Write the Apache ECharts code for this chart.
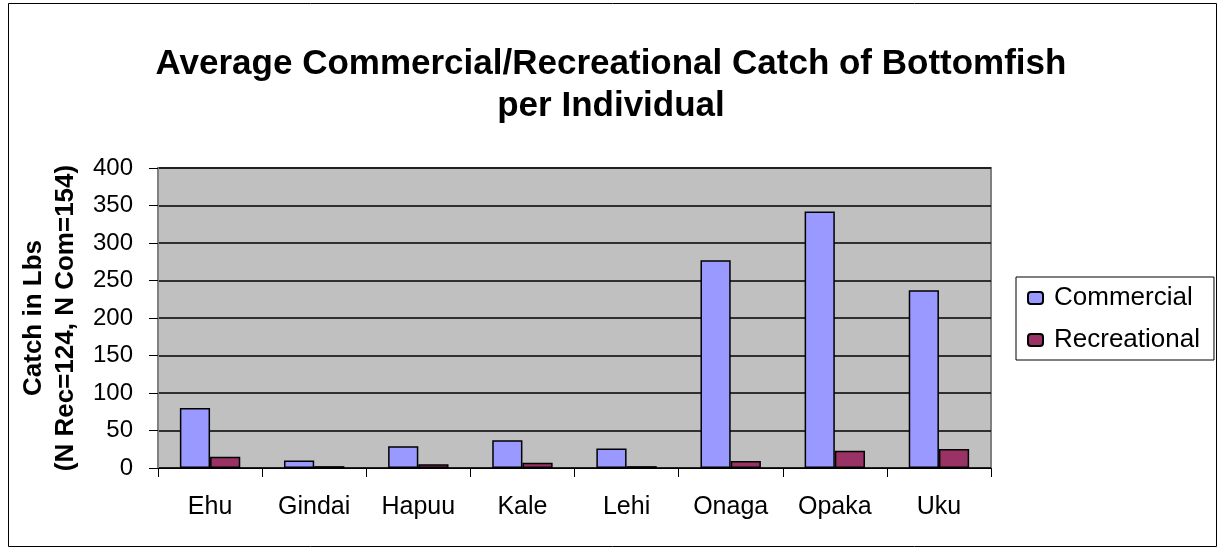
<!DOCTYPE html>
<html>
<head>
<meta charset="utf-8">
<script src="https://cdn.jsdelivr.net/npm/echarts@6/dist/echarts.min.js"></script>
<style>
html,body{margin:0;padding:0;background:#fff;}
#chart{width:1225px;height:550px;}
</style>
</head>
<body>
<div id="chart"></div>
<script>
var categories = ['Ehu','Gindai','Hapuu','Kale','Lehi','Onaga','Opaka','Uku'];
var commercial = [80, 10, 29, 37, 26, 277, 342, 237];
var recreational = [15, 2.5, 5, 7, 2.5, 9.5, 23, 25.5];
var seriesNames = ['Commercial','Recreational'];

var myChart = echarts.init(document.getElementById('chart'));

var option = {
	backgroundColor:'#ffffff',
	textStyle:{fontFamily:'Liberation Sans, Arial, sans-serif'},
	title:{
		text:'Average Commercial/Recreational Catch of Bottomfish\nper Individual',
		left:606,
		textAlign:'center',
		top:38,
		textStyle:{fontSize:35,fontWeight:'bold',color:'#000',lineHeight:42}
	},
	legend:{
		data:seriesNames,
		orient:'vertical',
		left:1016,
		top:277,
		padding:[8,14,7,11],
		itemGap:16,
		itemWidth:15,
		itemHeight:12,
		borderColor:'#000',
		borderWidth:1,
		textStyle:{fontSize:26,color:'#000',padding:[0,0,0,6]}
	},
	grid:{
		left:158,
		right:1225-991,
		top:168,
		bottom:550-468,
		show:true,
		backgroundColor:'#c0c0c0',
		borderColor:'#808080',
		borderWidth:2
	},
	xAxis:{
		type:'category',
		data:categories,
		axisLine:{lineStyle:{color:'#000',width:1}},
		axisTick:{show:true,length:9,lineStyle:{color:'#000'}},
		axisLabel:{fontSize:25,color:'#000',margin:27}
	},
	yAxis:{
		type:'value',
		min:0,
		max:400,
		interval:50,
		name:'Catch in Lbs\n(N Rec=124, N Com=154)',
		nameLocation:'middle',
		nameRotate:90,
		nameGap:66,
		nameTextStyle:{fontSize:26,fontWeight:'bold',color:'#000',lineHeight:32},
		axisLine:{show:true,lineStyle:{color:'#808080',width:2}},
		axisTick:{show:true,length:9,lineStyle:{color:'#000'}},
		axisLabel:{fontSize:24,color:'#000',margin:25},
		splitLine:{lineStyle:{color:'#000',width:1.5}}
	},
	series:[
		{
			name:seriesNames[0],
			type:'bar',
			data:commercial,
			barGap:'0%',
			barCategoryGap:'42%',
			itemStyle:{color:'#9999ff',borderColor:'#000',borderWidth:1.5}
		},
		{
			name:seriesNames[1],
			type:'bar',
			data:recreational,
			itemStyle:{color:'#993366',borderColor:'#000',borderWidth:1.5}
		}
	],
	graphic:[
		{
			type:'rect',
			shape:{x:8.5,y:3.5,width:1208,height:543},
			style:{fill:'none',stroke:'#000',lineWidth:1},
			silent:true
		}
	]
};
myChart.setOption(option);
</script>
</body>
</html>
